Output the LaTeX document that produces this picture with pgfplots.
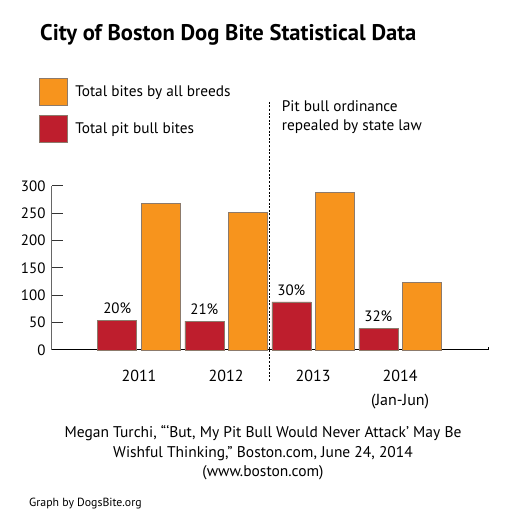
\documentclass[border=0pt]{standalone}
\usepackage{pgfplots}
\pgfplotsset{compat=1.18}
\usepackage{fontspec}
\setmainfont{PT Sans}
\definecolor{borange}{HTML}{F7941D}
\definecolor{bred}{HTML}{BE1E2D}
\definecolor{bedge}{HTML}{8C7A6B}
\pgfplotsset{sqlegend/.style={legend image code/.code={\draw[##1,draw=bedge,line width=0.6pt] (0pt,-13.5pt) rectangle (28pt,13.5pt);}}}
\begin{document}
\begin{tikzpicture}[x=1pt,y=1pt]
\path[use as bounding box] (0,0) rectangle (515,529);
\node[anchor=west,inner sep=0pt,font=\bfseries\fontsize{22.6}{26}\selectfont] at (40,494) {City of Boston Dog Bite Statistical Data};
\begin{axis}[
 at={(52pt,179pt)}, anchor=south west,
 scale only axis, width=436pt, height=164pt,
 xmin=-1, xmax=4.01, ymin=0, ymax=300,
 axis x line*=bottom, axis y line*=left,
 y axis line style={draw=black!60, line width=1pt},
 x axis line style={line width=1pt},
 ytick={0,50,...,300},
 xtick={0,1,2,3},
 xticklabels={2011,2012,2013,{2014\\(Jan-Jun)}},
 xticklabel style={align=center, font=\fontsize{16}{24.5}\selectfont, anchor=north, yshift=-5.5pt},
 yticklabel style={font=\fontsize{15}{17}\selectfont, xshift=-3pt},
 x tick style={draw=none},
 y tick style={black!80, line width=1pt},
 tick align=inside, major tick length=11pt,
 /pgf/number format/assume math mode=true,
 clip=false,
 ybar, bar width=39pt,
 legend style={draw=none, fill=none, at={(-0.0298,1.66)}, anchor=north west,
   font=\fontsize{15.3}{18}\selectfont, row sep=9pt, inner sep=0pt,
   /tikz/every odd column/.append style={column sep=5.5pt}},
 legend cell align=left,
]
\addplot[ybar, bar shift=21.75pt, fill=borange, draw=bedge, line width=0.6pt, sqlegend]
 coordinates {(0,268) (1,252) (2,289) (3,123)};
\addlegendentry{Total bites by all breeds}
\addplot[ybar, bar shift=-21.75pt, fill=bred, draw=bedge, line width=0.6pt, sqlegend,
 point meta=explicit symbolic, nodes near coords,
 nodes near coords style={font=\fontsize{15}{17}\selectfont, black, yshift=3pt}]
 coordinates {(0,54) [20\%] (1,53) [21\%] (2,88) [30\%] (3,39) [32\%]};
\addlegendentry{Total pit bull bites}
\draw[line width=0.9pt, dash pattern=on 2pt off 1.6pt] (axis cs:1.5,454) -- (axis cs:1.5,-59);
\draw[line width=1pt] (rel axis cs:1,0) -- ++(0pt,3pt);
\end{axis}
\node[anchor=west,inner sep=0pt,align=left,font=\fontsize{15.3}{19.3}\selectfont] at (281.7,411.7) {Pit bull ordinance\\repealed by state law};
\node[align=center,inner sep=0pt,font=\fontsize{15.5}{19.4}\selectfont] at (263,76) {Megan Turchi, “‘But, My Pit Bull Would Never Attack’ May Be\\Wishful Thinking,” Boston.com, June 24, 2014\\(www.boston.com)};
\node[anchor=west,inner sep=0pt,font=\fontsize{11.8}{13}\selectfont] at (29,25) {Graph by DogsBite.org};
\end{tikzpicture}
\end{document}
